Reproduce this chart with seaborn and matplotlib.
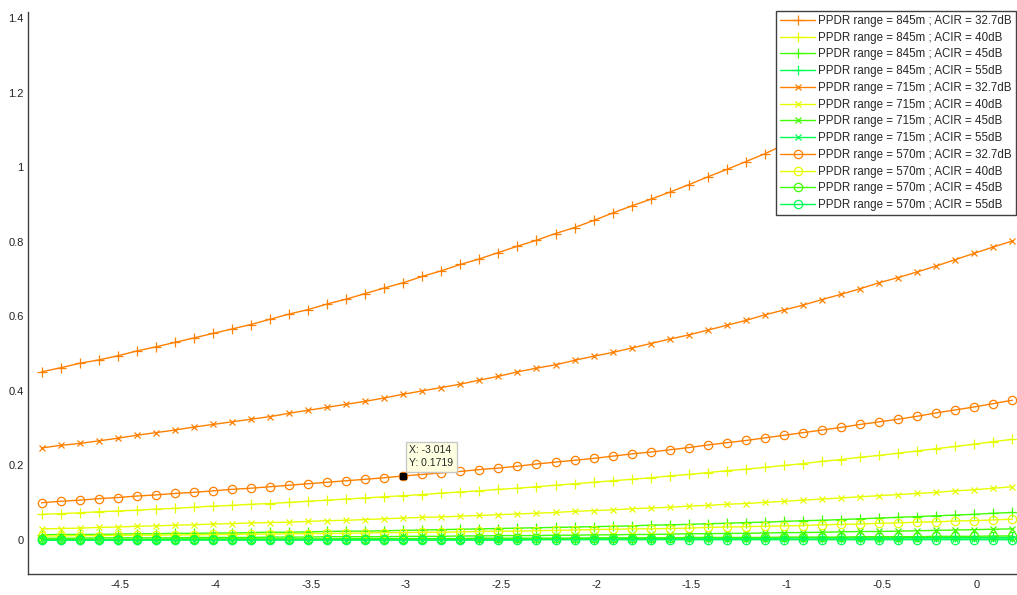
import numpy as np
import matplotlib
matplotlib.use("Agg")
import matplotlib.pyplot as plt
from matplotlib.ticker import FuncFormatter
import seaborn as sns

sns.set_style("white")
plt.rcParams['font.family'] = ['Liberation Sans', 'DejaVu Sans']
plt.rcParams['axes.unicode_minus'] = False

# sample grid (0.1 steps, data tip shows X = -3.014)
x = np.round(-4.914 + 0.1 * np.arange(52), 3)

# values
y_845_327 = [0.451, 0.462, 0.474, 0.483, 0.494, 0.507, 0.518, 0.530, 0.542, 0.554,
             0.566, 0.578, 0.592, 0.606, 0.618, 0.633, 0.646, 0.661, 0.676, 0.690,
             0.707, 0.722, 0.739, 0.754, 0.771, 0.788, 0.804, 0.822, 0.838, 0.857,
             0.877, 0.896, 0.914, 0.933, 0.953, 0.974, 0.994, 1.015, 1.036, 1.060,
             1.084, 1.109, 1.134, 1.160, 1.187, 1.214, 1.242, 1.270, 1.299, 1.329,
             1.359, 1.390]
y_845_40 = [0.069, 0.071, 0.073, 0.076, 0.078, 0.080, 0.083, 0.085, 0.088, 0.091,
            0.093, 0.096, 0.098, 0.101, 0.104, 0.107, 0.110, 0.113, 0.116, 0.119,
            0.122, 0.126, 0.129, 0.132, 0.136, 0.139, 0.143, 0.147, 0.151, 0.155,
            0.159, 0.163, 0.167, 0.172, 0.176, 0.181, 0.186, 0.190, 0.195, 0.200,
            0.205, 0.211, 0.216, 0.222, 0.227, 0.233, 0.239, 0.245, 0.251, 0.257,
            0.264, 0.270]
y_845_45 = [0.014, 0.015, 0.015, 0.015, 0.016, 0.017, 0.017, 0.018, 0.018, 0.019,
            0.019, 0.020, 0.021, 0.021, 0.022, 0.023, 0.024, 0.024, 0.025, 0.026,
            0.027, 0.028, 0.029, 0.030, 0.031, 0.032, 0.033, 0.034, 0.035, 0.036,
            0.037, 0.038, 0.040, 0.041, 0.042, 0.044, 0.045, 0.047, 0.048, 0.050,
            0.052, 0.053, 0.055, 0.057, 0.059, 0.061, 0.063, 0.065, 0.067, 0.069,
            0.072, 0.074]
y_845_55 = [0.001, 0.001, 0.001, 0.001, 0.001, 0.001, 0.001, 0.002, 0.002, 0.002,
            0.002, 0.002, 0.002, 0.002, 0.002, 0.002, 0.002, 0.003, 0.003, 0.003,
            0.003, 0.003, 0.003, 0.003, 0.003, 0.003, 0.004, 0.004, 0.004, 0.004,
            0.004, 0.004, 0.004, 0.005, 0.005, 0.005, 0.005, 0.005, 0.005, 0.005,
            0.006, 0.006, 0.006, 0.006, 0.006, 0.006, 0.007, 0.007, 0.007, 0.007,
            0.007, 0.007]
y_715_327 = [0.247, 0.254, 0.259, 0.266, 0.273, 0.281, 0.288, 0.295, 0.303, 0.310,
             0.317, 0.324, 0.331, 0.340, 0.348, 0.356, 0.364, 0.372, 0.381, 0.391,
             0.400, 0.409, 0.418, 0.429, 0.439, 0.451, 0.461, 0.470, 0.482, 0.493,
             0.503, 0.515, 0.527, 0.539, 0.550, 0.563, 0.576, 0.589, 0.604, 0.617,
             0.630, 0.645, 0.659, 0.674, 0.690, 0.704, 0.719, 0.735, 0.752, 0.769,
             0.786, 0.802]
y_715_40 = [0.030, 0.031, 0.032, 0.034, 0.035, 0.037, 0.038, 0.040, 0.041, 0.043,
            0.044, 0.046, 0.047, 0.048, 0.050, 0.052, 0.053, 0.055, 0.057, 0.059,
            0.061, 0.062, 0.064, 0.066, 0.068, 0.070, 0.072, 0.074, 0.077, 0.079,
            0.081, 0.084, 0.086, 0.088, 0.091, 0.093, 0.096, 0.098, 0.101, 0.104,
            0.107, 0.110, 0.113, 0.116, 0.119, 0.122, 0.125, 0.128, 0.132, 0.135,
            0.139, 0.143]
y_715_45 = [0.005, 0.005, 0.005, 0.006, 0.006, 0.006, 0.006, 0.006, 0.007, 0.007,
            0.007, 0.007, 0.008, 0.008, 0.008, 0.009, 0.009, 0.009, 0.009, 0.010,
            0.010, 0.010, 0.011, 0.011, 0.012, 0.012, 0.012, 0.013, 0.013, 0.014,
            0.014, 0.015, 0.015, 0.016, 0.017, 0.017, 0.018, 0.018, 0.019, 0.020,
            0.020, 0.021, 0.022, 0.023, 0.023, 0.024, 0.025, 0.026, 0.027, 0.028,
            0.029, 0.030]
y_715_55 = [0.000, 0.000, 0.000, 0.000, 0.000, 0.001, 0.001, 0.001, 0.001, 0.001,
            0.001, 0.001, 0.001, 0.001, 0.001, 0.001, 0.001, 0.001, 0.001, 0.001,
            0.001, 0.001, 0.001, 0.001, 0.001, 0.001, 0.002, 0.002, 0.002, 0.002,
            0.002, 0.002, 0.002, 0.002, 0.002, 0.002, 0.002, 0.002, 0.002, 0.002,
            0.002, 0.003, 0.003, 0.003, 0.003, 0.003, 0.003, 0.003, 0.003, 0.003,
            0.003, 0.003]
y_570_327 = [0.100, 0.104, 0.107, 0.111, 0.114, 0.118, 0.121, 0.125, 0.128, 0.132,
             0.136, 0.139, 0.143, 0.147, 0.151, 0.155, 0.159, 0.163, 0.167, 0.1719,
             0.176, 0.180, 0.184, 0.189, 0.193, 0.198, 0.204, 0.209, 0.214, 0.219,
             0.225, 0.231, 0.236, 0.242, 0.248, 0.255, 0.261, 0.267, 0.274, 0.281,
             0.288, 0.295, 0.302, 0.310, 0.317, 0.324, 0.332, 0.341, 0.349, 0.357,
             0.366, 0.375]
y_570_40 = [0.011, 0.011, 0.012, 0.012, 0.013, 0.013, 0.013, 0.014, 0.014, 0.015,
            0.015, 0.016, 0.016, 0.017, 0.017, 0.018, 0.018, 0.019, 0.020, 0.020,
            0.021, 0.021, 0.022, 0.023, 0.024, 0.024, 0.025, 0.026, 0.027, 0.028,
            0.029, 0.030, 0.030, 0.031, 0.032, 0.034, 0.035, 0.036, 0.037, 0.038,
            0.039, 0.041, 0.042, 0.043, 0.045, 0.046, 0.048, 0.049, 0.051, 0.052,
            0.054, 0.056]
y_570_45 = [0.002, 0.002, 0.002, 0.002, 0.002, 0.002, 0.002, 0.003, 0.003, 0.003,
            0.003, 0.003, 0.003, 0.003, 0.003, 0.003, 0.004, 0.004, 0.004, 0.004,
            0.004, 0.004, 0.004, 0.005, 0.005, 0.005, 0.005, 0.005, 0.005, 0.006,
            0.006, 0.006, 0.006, 0.006, 0.007, 0.007, 0.007, 0.007, 0.007, 0.008,
            0.008, 0.008, 0.008, 0.009, 0.009, 0.009, 0.009, 0.010, 0.010, 0.010,
            0.011, 0.011]
y_570_55 = [0.000, 0.000, 0.000, 0.000, 0.000, 0.000, 0.000, 0.000, 0.000, 0.000,
            0.000, 0.000, 0.000, 0.000, 0.000, 0.000, 0.000, 0.000, 0.000, 0.000,
            0.000, 0.000, 0.000, 0.000, 0.000, 0.000, 0.001, 0.001, 0.001, 0.001,
            0.001, 0.001, 0.001, 0.001, 0.001, 0.001, 0.001, 0.001, 0.001, 0.001,
            0.001, 0.001, 0.001, 0.001, 0.001, 0.001, 0.001, 0.001, 0.001, 0.001,
            0.001, 0.001]

acir_colors = {"32.7": "#FF8000", "40": "#E6FF00", "45": "#40FF00", "55": "#00FF55"}
range_markers = {"845m": "+", "715m": "x", "570m": "o"}
marker_sizes = {"+": 7, "x": 4, "o": 6}

series = [
    ("845m", "32.7", y_845_327), ("845m", "40", y_845_40),
    ("845m", "45", y_845_45), ("845m", "55", y_845_55),
    ("715m", "32.7", y_715_327), ("715m", "40", y_715_40),
    ("715m", "45", y_715_45), ("715m", "55", y_715_55),
    ("570m", "32.7", y_570_327), ("570m", "40", y_570_40),
    ("570m", "45", y_570_45), ("570m", "55", y_570_55),
]

fig = plt.figure(figsize=(10.17, 5.95), dpi=100)
ax = fig.add_axes([28 / 1017, 21 / 595, 989 / 1017, 562 / 595])

for rng, acir, yv in series:
    m = range_markers[rng]
    sns.lineplot(x=x, y=yv, ax=ax, color=acir_colors[acir], marker=m,
                 markersize=marker_sizes[m], markerfacecolor="none",
                 markeredgecolor=acir_colors[acir], markeredgewidth=0.9,
                 linewidth=1.0, label=f"PPDR range = {rng} ; ACIR = {acir}dB")

# data tip
ax.plot([-3.014], [0.1719], marker="s", color="black", markersize=5, zorder=10)
ax.annotate("X: -3.014\nY: 0.1719", xy=(-3.014, 0.1719), xytext=(6, 8),
            textcoords="offset pixels", ha="left", va="bottom", fontsize=7.5,
            linespacing=1.35,
            bbox=dict(boxstyle="square,pad=0.35", fc="#FFFFE1", ec="#C8C8C8", lw=1),
            zorder=11)

ax.set_xlim(-4.985, 0.21)
ax.set_ylim(-0.091, 1.416)
ax.set_xticks([-4.5, -4, -3.5, -3, -2.5, -2, -1.5, -1, -0.5, 0])
ax.set_yticks([0, 0.2, 0.4, 0.6, 0.8, 1.0, 1.2, 1.4])
fmt = FuncFormatter(lambda v, p: f"{v:g}")
ax.xaxis.set_major_formatter(fmt)
ax.yaxis.set_major_formatter(fmt)
ax.tick_params(direction="in", length=7, width=1, color="#707070",
               labelsize=8, labelcolor="#222222", pad=3)
ax.tick_params(axis="x", pad=4)
ax.set_xlabel("")
ax.set_ylabel("")
for s in ["top", "right"]:
    ax.spines[s].set_visible(False)
for s in ["left", "bottom"]:
    ax.spines[s].set_color("#404040")
    ax.spines[s].set_linewidth(1)

leg = ax.legend(loc="upper right", bbox_to_anchor=(1016 / 1017, 1 - 11 / 595),
                bbox_transform=fig.transFigure, fontsize=8.3, frameon=True,
                fancybox=False, framealpha=1, edgecolor="#404040",
                borderpad=0.35, labelspacing=0.41, handlelength=3.0,
                handletextpad=0.3, borderaxespad=0)
leg.get_frame().set_linewidth(1)
leg.set_zorder(20)

fig.savefig("out.png", dpi=100)
